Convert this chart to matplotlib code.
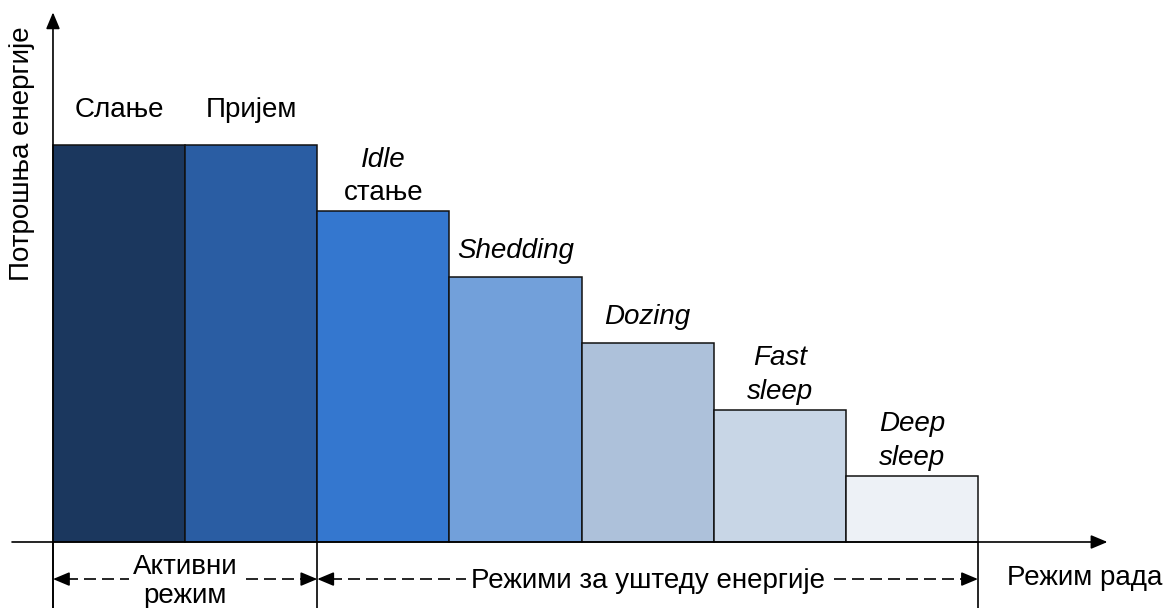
import matplotlib.pyplot as plt

plt.rcParams['font.family'] = ['Liberation Sans', 'DejaVu Sans']

# data
line1 = ['Слање', 'Пријем', 'Idle', 'Shedding', 'Dozing', 'Fast', 'Deep']
line2 = ['', '', 'стање', '', '', 'sleep', 'sleep']
italic1 = [False, False, True, True, True, True, True]
italic2 = [False, False, False, False, False, True, True]
energy = [6, 6, 5, 4, 3, 2, 1]
colors = ['#1b375e', '#2a5da3', '#3477cf', '#72a0da', '#adc1da', '#c8d6e6', '#edf1f6']
groups = ['Активни\nрежим', 'Режими за уштеду енергије']
group_span = [(0, 2), (2, 7)]

fig = plt.figure(figsize=(11.71, 6.08), dpi=100)
ax = fig.add_axes([0, 0, 1, 1])
ax.set_xlim(-0.401, 8.461)
ax.set_ylim(-0.997, 8.187)
ax.axis('off')

x = list(range(len(energy)))
ax.bar(x, energy, width=1, align='edge', color=colors, edgecolor='#111111', linewidth=1.1, zorder=2)

# labels above bars
fs = 20
for i in x:
    e = energy[i]
    if line2[i]:
        ax.text(i + 0.5, e + 0.16, line2[i], ha='center', va='baseline', fontsize=fs,
                style='italic' if italic2[i] else 'normal')
        ax.text(i + 0.5, e + 0.67, line1[i], ha='center', va='baseline', fontsize=fs,
                style='italic' if italic1[i] else 'normal')
    else:
        gap = 0.29 if italic1[i] else 0.42
        ax.text(i + 0.5, e + gap, line1[i], ha='center', va='baseline', fontsize=fs,
                style='italic' if italic1[i] else 'normal')

# axes arrows
head = '-|>,head_length=1.0,head_width=0.42'
ax.annotate('', xy=(0, 8.0), xytext=(0, -1.0),
            arrowprops=dict(arrowstyle=head, color='black', lw=1.2, shrinkA=0, shrinkB=0))
ax.annotate('', xy=(7.98, 0), xytext=(-0.31, 0),
            arrowprops=dict(arrowstyle=head, color='black', lw=1.2, shrinkA=0, shrinkB=0))
ax.text(-0.235, 5.87, 'Потрошња енергије', rotation=90, ha='center', va='center', fontsize=fs)
ax.text(7.81, -0.55, 'Режим рада', ha='center', va='center', fontsize=fs)

# group brackets
for xs in [0, 2, 7]:
    ax.plot([xs, xs], [0, -1.0], color='black', lw=1.2, zorder=3)

ya = -0.56
for (a, b), g in zip(group_span, groups):
    ax.plot([a + 0.1, b - 0.1], [ya, ya], color='black', lw=1.2, dashes=(7.2, 3.6), zorder=3)
    for tip, tail in [(a, a + 0.12), (b, b - 0.12)]:
        ax.annotate('', xy=(tip, ya), xytext=(tail, ya),
                    arrowprops=dict(arrowstyle=head, color='black', lw=1.2, shrinkA=0, shrinkB=0))
    ax.text((a + b) / 2, ya - 0.03, g, ha='center', va='center', fontsize=fs, linespacing=1.15, zorder=4,
            bbox=dict(facecolor='white', edgecolor='none', pad=3))

fig.savefig('out.png', dpi=100)
